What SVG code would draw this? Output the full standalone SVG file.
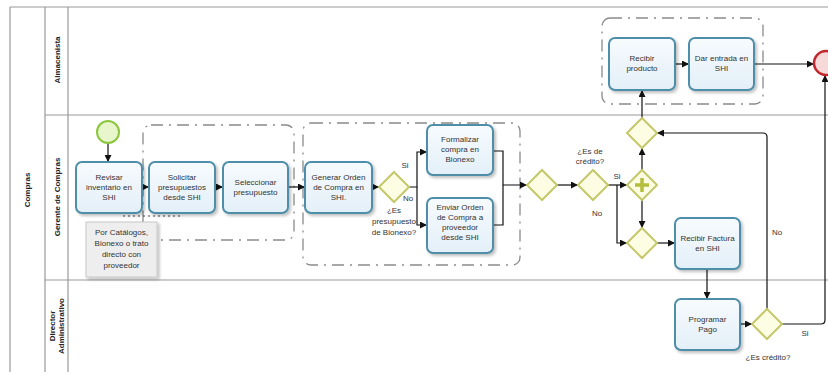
<svg xmlns="http://www.w3.org/2000/svg" width="828" height="372" viewBox="0 0 828 372">
<defs>
<marker id="arr" viewBox="0 0 10 10" refX="10" refY="5" markerWidth="7" markerHeight="7" orient="auto" markerUnits="userSpaceOnUse"><path d="M0,0 L10,5 L0,10 z" fill="#111"/></marker>
<linearGradient id="tg" x1="0" y1="0" x2="0" y2="1"><stop offset="0" stop-color="#f7fbfe"/><stop offset="1" stop-color="#e3eff8"/></linearGradient>
<filter id="sh" x="-20%" y="-20%" width="150%" height="150%"><feDropShadow dx="2" dy="2" stdDeviation="1.5" flood-color="#000" flood-opacity="0.25"/></filter>
</defs>
<style>
text{font-family:"Liberation Sans",Arial,sans-serif;font-size:8px;fill:#333;text-anchor:middle}
.lane{font-weight:bold;font-size:8px;fill:#222}
.task{fill:url(#tg);stroke:#4f8ea8;stroke-width:2;filter:url(#sh)}
.gw{fill:#fdfde4;stroke:#c5c86a;stroke-width:2}
.grp{fill:none;stroke:#8a8a8a;stroke-width:1.3;stroke-dasharray:12 6 2 6}
.ln{fill:none;stroke:#111;stroke-width:1.2;marker-end:url(#arr)}
.pl{fill:none;stroke:#111;stroke-width:1.2}
.bd{stroke:#999;stroke-width:1.2;fill:none}
</style>
<rect width="828" height="372" fill="#fff"/>
<!-- pool and lanes -->
<g id="pool">
<path class="bd" d="M10,7 H828 M10,7 V372 M45,7 V372 M68,7 V372 M45,115 H828 M45,280 H828"/>
<text class="lane" transform="translate(30,190) rotate(-90)">Compras</text>
<text class="lane" transform="translate(60,60) rotate(-90)">Almacenista</text>
<text class="lane" transform="translate(60,197) rotate(-90)">Gerente de Compras</text>
<text class="lane" transform="translate(55,326) rotate(-90)">Director</text>
<text class="lane" transform="translate(64,326) rotate(-90)">Administrativo</text>
</g>
<!-- groups -->
<g id="groups">
<rect class="grp" x="602" y="18" width="161" height="86" rx="8"/>
<rect class="grp" x="143" y="125" width="151" height="115" rx="8"/>
<rect class="grp" x="303" y="123" width="217" height="142" rx="8"/>
</g>
<!-- connectors -->
<g id="connectors">
<path class="ln" d="M108,143 V162"/>
<path class="ln" d="M142,187 H149"/>
<path class="ln" d="M215,187 H223"/>
<path class="ln" d="M288,187 H305"/>
<path class="ln" d="M372,187 H379"/>
<path class="ln" d="M409,187 H417 V152 H427"/>
<path class="ln" d="M417,187 V225 H427"/>
<path class="ln" d="M493,151 H503 V185 H527"/>
<path class="pl" d="M493,225 H503 V185"/>
<path class="ln" d="M557,185 H578"/>
<path class="ln" d="M608,185 H627"/>
<path class="ln" d="M617,185 V243 H627"/>
<path class="ln" d="M642,170 V148"/>
<path class="ln" d="M642,118 V90"/>
<path class="ln" d="M642,200 V228"/>
<path class="ln" d="M657,243 H675"/>
<path class="ln" d="M675,64 H689"/>
<path class="ln" d="M754,64 H814"/>
<path class="ln" d="M707,269 V299"/>
<path class="ln" d="M740,324 H752"/>
<path class="ln" d="M767,309 V137 Q767,133 763,133 H657"/>
<path class="ln" d="M782,324 H821 Q825,324 825,320 V75"/>
<path d="M123,216 H182" stroke="#444" stroke-width="1.2" stroke-dasharray="2 3" fill="none"/>
<text x="405" y="168">Si</text>
<text x="408" y="201">No</text>
<text x="617" y="179">Si</text>
<text x="597" y="216">No</text>
<text x="777" y="235">No</text>
<text x="805" y="336">Si</text>
</g>
<!-- nodes -->
<g id="start"><circle cx="108" cy="132" r="11" fill="#e8f6cc" stroke="#8cc63e" stroke-width="2"/></g>
<g id="end"><circle cx="826" cy="63" r="12" fill="#f8d9d9" stroke="#c0282d" stroke-width="2.5"/></g>
<g id="revisar"><rect class="task" x="76" y="162" width="66" height="51" rx="6"/><text x="109" y="180">Revisar</text><text x="109" y="190">inventario en</text><text x="109" y="200">SHI</text></g>
<g id="solicitar"><rect class="task" x="149" y="162" width="66" height="51" rx="6"/><text x="182" y="180">Solicitar</text><text x="182" y="190">presupuestos</text><text x="182" y="200">desde SHI</text></g>
<g id="seleccionar"><rect class="task" x="223" y="162" width="65" height="51" rx="6"/><text x="255.5" y="185">Seleccionar</text><text x="255.5" y="195">presupuesto</text></g>
<g id="nota"><rect x="86" y="222" width="71" height="55" fill="#eeeeee" stroke="#c8c8c8" stroke-width="1" filter="url(#sh)"/><text x="121.5" y="235">Por Catálogos,</text><text x="121.5" y="246">Bionexo o trato</text><text x="121.5" y="257">directo con</text><text x="121.5" y="268">proveedor</text></g>
<g id="generar"><rect class="task" x="305" y="162" width="67" height="51" rx="6"/><text x="338.5" y="180">Generar Orden</text><text x="338.5" y="190">de Compra en</text><text x="338.5" y="200">SHI.</text></g>
<g id="gw1"><path class="gw" d="M394,172 L409,187 L394,202 L379,187 z"/><text x="394" y="213">¿Es</text><text x="394" y="224">presupuesto</text><text x="394" y="235">de Bionexo?</text></g>
<g id="formalizar"><rect class="task" x="427" y="125" width="66" height="50" rx="6"/><text x="460" y="142">Formalizar</text><text x="460" y="152">compra en</text><text x="460" y="162">Bionexo</text></g>
<g id="enviar"><rect class="task" x="427" y="198" width="66" height="55" rx="6"/><text x="460" y="210">Enviar Orden</text><text x="460" y="220">de Compra a</text><text x="460" y="230">proveedor</text><text x="460" y="240">desde SHI</text></g>
<g id="gw2"><path class="gw" d="M542,170 L557,185 L542,200 L527,185 z"/></g>
<g id="gw3"><path class="gw" d="M593,170 L608,185 L593,200 L578,185 z"/><text x="590" y="154">¿Es  de</text><text x="590" y="164">crédito?</text></g>
<g id="gwpar"><path class="gw" d="M642,170 L657,185 L642,200 L627,185 z"/><path d="M642,178 V192 M635,185 H649" stroke="#b5bd3c" stroke-width="3.5"/></g>
<g id="gw4"><path class="gw" d="M642,118 L657,133 L642,148 L627,133 z"/></g>
<g id="gw5"><path class="gw" d="M642,228 L657,243 L642,258 L627,243 z"/></g>
<g id="recibirProducto"><rect class="task" x="609" y="38" width="66" height="52" rx="6"/><text x="642" y="61">Recibir</text><text x="642" y="71">producto</text></g>
<g id="darEntrada"><rect class="task" x="689" y="38" width="65" height="52" rx="6"/><text x="721.5" y="61">Dar entrada en</text><text x="721.5" y="71">SHI</text></g>
<g id="recibirFactura"><rect class="task" x="675" y="218" width="65" height="51" rx="6"/><text x="707.5" y="241">Recibir Factura</text><text x="707.5" y="251">en SHI</text></g>
<g id="programar"><rect class="task" x="675" y="299" width="65" height="51" rx="6"/><text x="707.5" y="322">Programar</text><text x="707.5" y="332">Pago</text></g>
<g id="gw6"><path class="gw" d="M767,309 L782,324 L767,339 L752,324 z"/><text x="768" y="360">¿Es crédito?</text></g>
</svg>
